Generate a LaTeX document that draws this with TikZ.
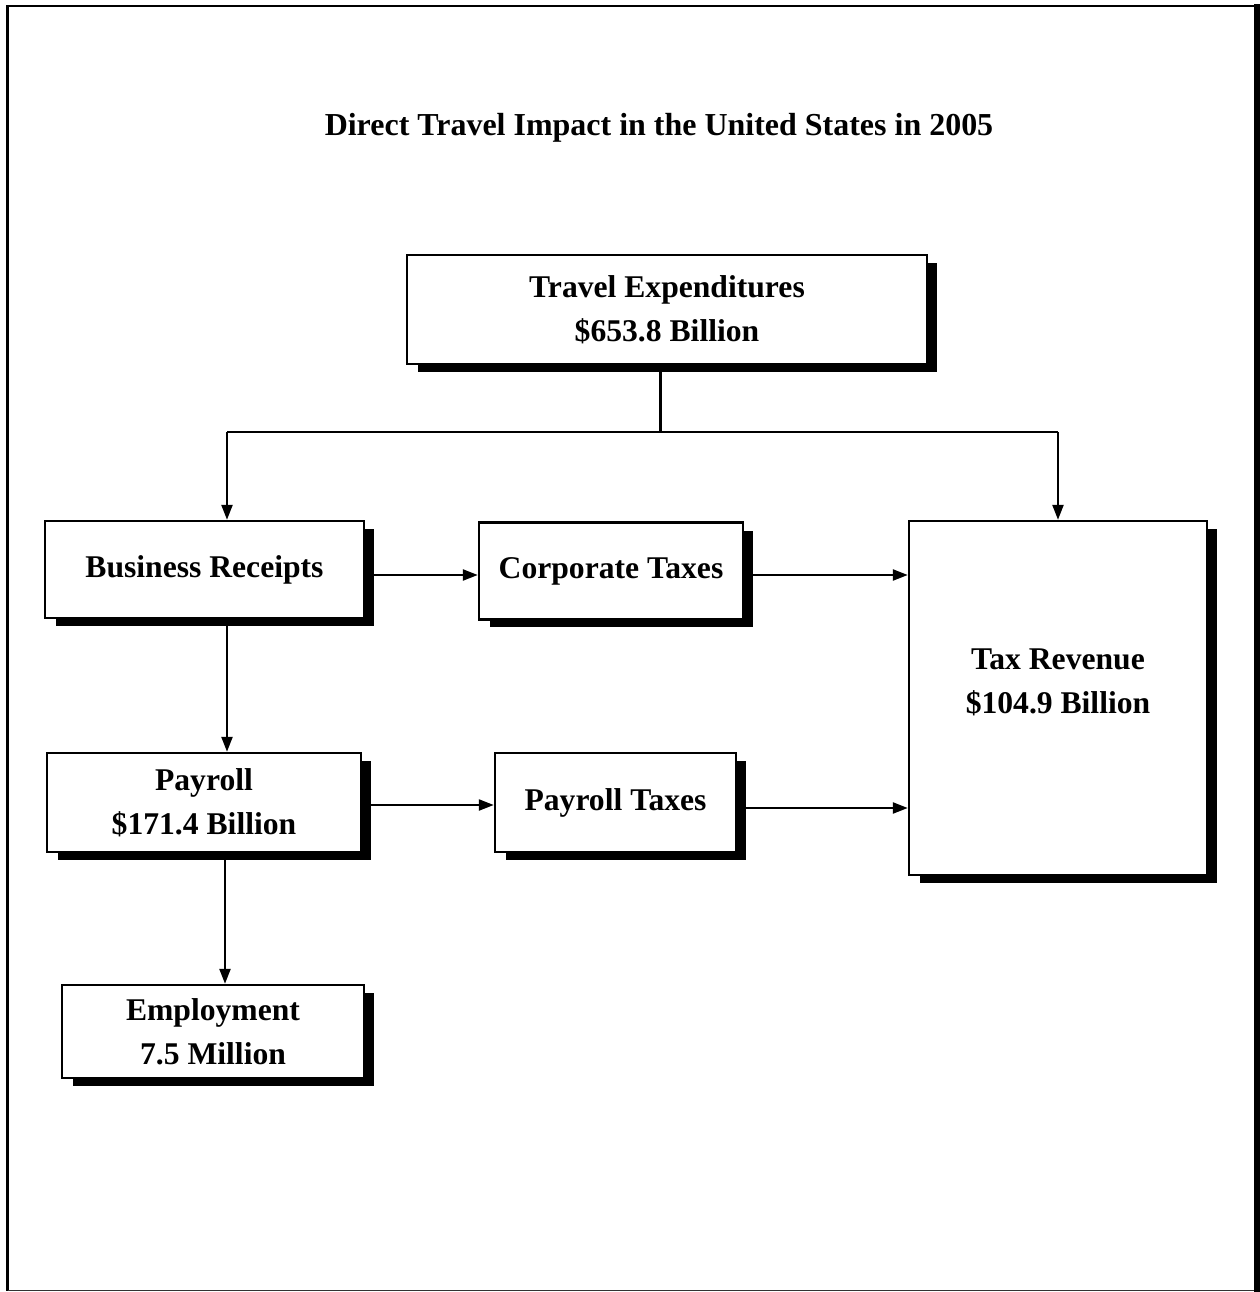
\documentclass[tikz,border=0pt]{standalone}
\usepackage{fontspec}
\setmainfont{Liberation Serif}
\usetikzlibrary{arrows.meta,positioning,shadows}

\tikzset{
  box/.style={draw, line width=1.4pt, fill=white, inner sep=0pt, align=center,
    font=\bfseries\fontsize{18}{25}\selectfont,
    drop shadow={shadow xshift=0.21cm, shadow yshift=-0.16cm, opacity=1, fill=black}},
  lbl/.style={align=center, inner sep=0pt, font=\bfseries\fontsize{18}{25}\selectfont},
  link/.style={line width=1.3pt},
  arr/.style={line width=1.3pt, -{Triangle[length=0.3cm,width=0.22cm]}}
}

\begin{document}
\begin{tikzpicture}[x=0.02cm, y=-0.02cm]
  \useasboundingbox (0,0) rectangle (1260,1292);

  % Frame
  \draw[line width=1.3pt] (7.5,1290.5) -- (7.5,6) -- (1257,6);
  \draw[line width=1pt, black!80] (7.5,1290.5) -- (1257,1290.5);
  \fill (1254,4) rectangle (1260,1292);

  % Title
  \node[lbl, font=\bfseries\fontsize{18.2}{25}\selectfont] (title) at (659,128) {Direct Travel Impact in the United States in 2005};

  % Boxes
  \node[box, minimum width=10.4cm, minimum height=2.18cm] (travel) at (667,309.5) {Travel Expenditures\\\$653.8 Billion};
  \node[box, minimum width=6.38cm, minimum height=1.94cm] (business) at (204.5,569.5) {Business Receipts};
  \node[box, minimum width=5.28cm, minimum height=1.94cm] (corporate) at (611,571) {Corporate Taxes};
  \node[box, minimum width=5.96cm, minimum height=7.08cm] (taxrev) at (1058,698) {};
  \node[lbl] (taxrevtext) at (1058,682) {Tax Revenue\\\$104.9 Billion};
  \node[box, minimum width=6.28cm, minimum height=1.98cm] (payroll) at (204,802.5) {Payroll\\\$171.4 Billion};
  \node[box, minimum width=4.82cm, minimum height=1.98cm] (ptaxes) at (615.5,802.5) {Payroll Taxes};
  \node[box, minimum width=6.04cm, minimum height=1.86cm] (employ) at (213,1031.5) {Employment\\7.5 Million};

  % Branch points
  \coordinate (split) at (660.5,432);
  \coordinate (left) at (227,432);
  \coordinate (right) at (1058,432);
  \coordinate (row1) at (0,575);
  \coordinate (row2) at (0,805);
  \coordinate (row3) at (0,808);

  % Connectors
  \draw[link] (split |- travel.south) -- (split);
  \draw[link] (left) -- (right);
  \draw[arr] (left) -- (left |- business.north);
  \draw[arr] (right) -- (right |- taxrev.north);
  \draw[arr] (business.east |- row1) -- (corporate.west |- row1);
  \draw[arr] (corporate.east |- row1) -- (taxrev.west |- row1);
  \draw[arr] (left |- business.south) -- (left |- payroll.north);
  \draw[arr] (payroll.east |- row2) -- (ptaxes.west |- row2);
  \draw[arr] (ptaxes.east |- row3) -- (taxrev.west |- row3);
  \draw[arr] ([xshift=-0.04cm]left |- payroll.south) -- ([xshift=-0.04cm]left |- employ.north);
\end{tikzpicture}
\end{document}
